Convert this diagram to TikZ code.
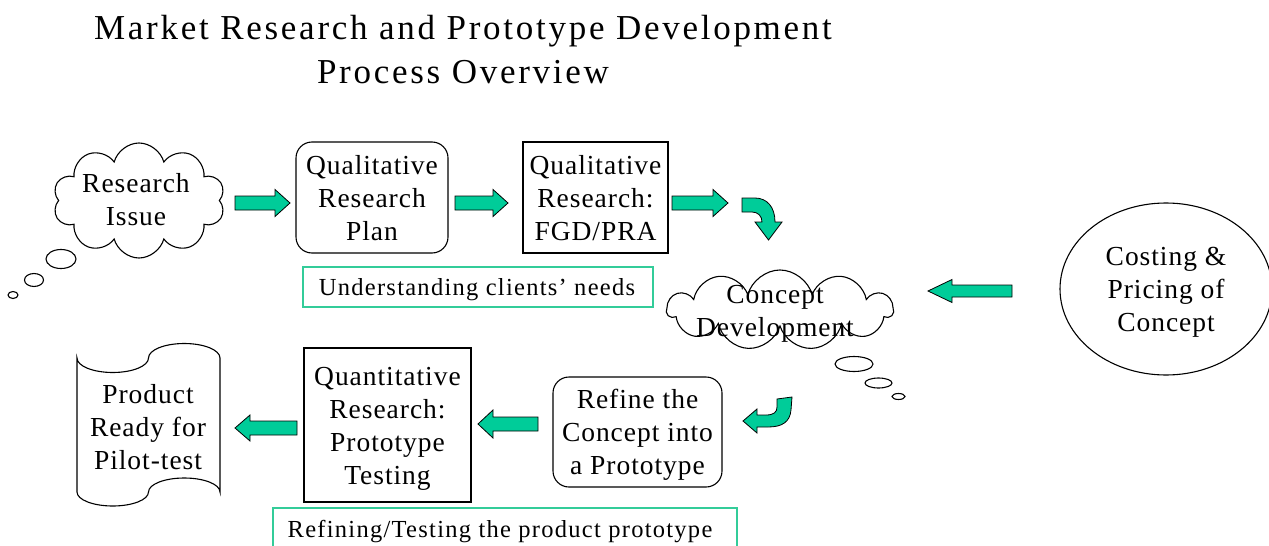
\documentclass[tikz,border=0pt]{standalone}
\usepackage{fontspec}
\setmainfont{Liberation Serif}
\newfontfamily\bodyfam[LetterSpace=3.5]{Liberation Serif}
\newfontfamily\titlefam[LetterSpace=7.8]{Liberation Serif}
\newfontfamily\capfam[LetterSpace=5.2]{Liberation Serif}
\usetikzlibrary{shapes.symbols,shapes.geometric,calc}
\definecolor{teal1}{RGB}{0,204,153}
\definecolor{teal2}{RGB}{51,204,153}
\newcommand\tstrut{\rule{0pt}{29.1pt}}
\tikzset{
 body/.style={font=\bodyfam\fontsize{27.5}{33}\selectfont, align=center, inner sep=0pt},
 titletxt/.style={font=\titlefam\fontsize{35}{45}\selectfont, inner sep=0pt, anchor=base},
 captxt/.style={font=\capfam\fontsize{24.5}{29}\selectfont, inner sep=0pt},
 stepbox/.style={draw, line width=1.1pt, body},
 capbox/.style={draw=teal2, line width=2pt},
 barrow/.style={draw=black, line width=0.8pt, fill=teal1, line join=miter},
 cloudshape/.style={cloud, draw, line width=1.1pt, cloud ignores aspect, inner sep=0pt},
 bubble/.style={ellipse, draw, line width=1.1pt, inner sep=0pt},
}
\newcommand\harrow[5]{%
 \draw[barrow] let \p1=(#1), \p2=(#2), \n1={sign(\x2-\x1)} in
   (\x1,{\y1+#3pt}) -- ({\x2-\n1*#5pt},{\y1+#3pt}) -- ({\x2-\n1*#5pt},{\y1+#4pt})
   -- (\x2,\y1) -- ({\x2-\n1*#5pt},{\y1-#4pt}) -- ({\x2-\n1*#5pt},{\y1-#3pt})
   -- (\x1,{\y1-#3pt}) -- cycle;}
\begin{document}
\begin{tikzpicture}[x=1pt,y=-1pt]
\useasboundingbox (0,0) rectangle (1269,546);
\clip (0,0) rectangle (1269,546);
% title
\node[titletxt] (t1) at (463,39) {Market Research and Prototype Development};
\node[titletxt] (t2) at (463,83) {Process Overview};
% research issue cloud
\node[cloudshape, cloud puffs=10, minimum width=172, minimum height=115] (ri) at (139,200.5) {};
\node[bubble, minimum width=30, minimum height=19] (rb1) at (61,259) {};
\node[bubble, minimum width=19, minimum height=13] (rb2) at (34,280) {};
\node[bubble, minimum width=10, minimum height=7] (rb3) at (13,295) {};
\node[body] (rit) at (136,199) {\tstrut Research\\Issue\strut};
% top row boxes
\node[stepbox, rounded corners=16, minimum width=152, minimum height=111] (qp) at (372,197.5) {\tstrut Qualitative\\Research\\Plan\strut};
\node[stepbox, minimum width=145, minimum height=111] (qf) at (595.5,197.5) {\tstrut Qualitative\\Research:\\FGD/PRA\strut};
\node[capbox, minimum width=350, minimum height=40] (cap1box) at (478,287) {};
\node[captxt] (cap1) at (477,290) {Understanding clients’ needs};
% concept cloud
\node[cloudshape, cloud puffs=11, minimum width=226, minimum height=80] (cd) at (780,310) {};
\node[bubble, minimum width=38, minimum height=15] (cb1) at (854,364) {};
\node[bubble, minimum width=27, minimum height=10] (cb2) at (878.5,383) {};
\node[bubble, minimum width=13, minimum height=6] (cb3) at (898.5,396.5) {};
\node[body] (cdt) at (775,310) {\tstrut Concept\\Development\strut};
% costing ellipse
\node[ellipse, draw, line width=1.1pt, minimum width=212, minimum height=172, body] (cp) at (1166,289) {\tstrut Costing \&\\Pricing of\\Concept\strut};
% bottom row
\node[stepbox, rounded corners=16, minimum width=169, minimum height=110] (rf) at (637.5,432) {\tstrut Refine the\\Concept into\\a Prototype\strut};
\node[stepbox, minimum width=167, minimum height=154] (qt) at (387.5,425) {\tstrut Quantitative\\Research:\\Prototype\\Testing\strut};
% punched tape
\draw[line width=1.1pt] (77,358) arc[start angle=180, end angle=0, x radius=35.75, y radius=14.5]
  arc[start angle=180, end angle=360, x radius=35.75, y radius=14.5]
  -- (220,492) arc[start angle=0, end angle=-180, x radius=35.75, y radius=14]
  arc[start angle=0, end angle=180, x radius=35.75, y radius=14] -- cycle;
\node[body] (pr) at (148,427) {\tstrut Product\\Ready for\\Pilot-test\strut};
% bottom caption
\node[capbox, minimum width=464, minimum height=63, anchor=north] (cap2box) at (505,507) {};
\node[captxt] (cap2) at (500,531.5) {Refining/Testing the product prototype};
% straight block arrows
\coordinate (a1t) at (235,203); \coordinate (a1h) at (290,203);
\coordinate (a2t) at (455,203); \coordinate (a2h) at (508,203);
\coordinate (a3t) at (672,203); \coordinate (a3h) at (728,203);
\coordinate (a4t) at (1012,291); \coordinate (a4h) at (928,291);
\coordinate (a5t) at (538,424); \coordinate (a5h) at (478,424);
\coordinate (a6t) at (297,428); \coordinate (a6h) at (235,428);
\harrow{a1t}{a1h}{7}{13.5}{15}
\harrow{a2t}{a2h}{7}{13.5}{15}
\harrow{a3t}{a3h}{7}{13.5}{15}
\harrow{a4t}{a4h}{6}{11.5}{24}
\harrow{a5t}{a5h}{7}{14}{15}
\harrow{a6t}{a6h}{7}{13}{15}
% curved arrows
\draw[barrow] (742,198) -- (755,198) .. controls (767,198) and (775,207) .. (775,222) -- (782,222) -- (768.5,240) -- (755,222) -- (762,222) .. controls (762,216) and (758,212) .. (752,212) -- (742,212) -- cycle;
\draw[barrow] (777,399) -- (792,397) -- (791,410) .. controls (790,422) and (782,427) .. (768,427) -- (757,427) -- (757,433) -- (743,421) -- (757,409) -- (757,415) -- (766,415) .. controls (774,415) and (777,412) .. (777,407) -- cycle;
\end{tikzpicture}
\end{document}
